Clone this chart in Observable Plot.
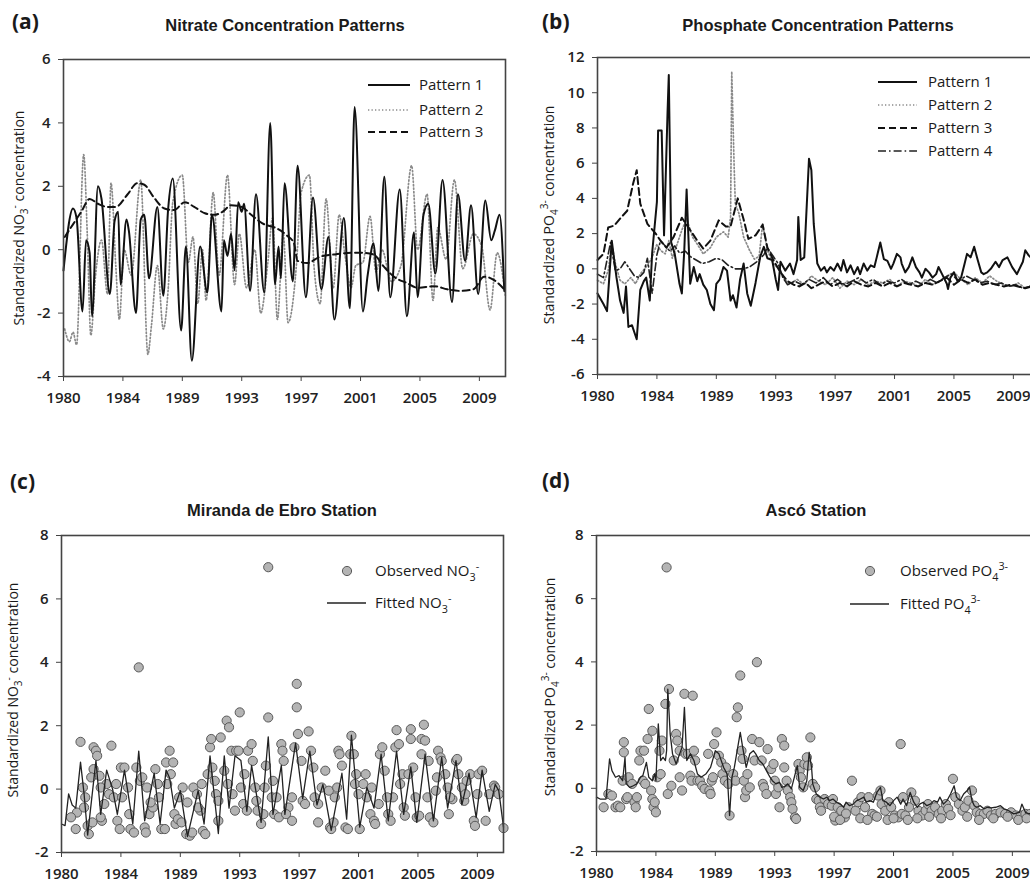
<!DOCTYPE html>
<html>
<head>
<meta charset="utf-8">
<script src="https://cdn.jsdelivr.net/npm/d3@7"></script>
<script src="https://cdn.jsdelivr.net/npm/@observablehq/plot@0.6"></script>
<style>
  html, body { margin: 0; padding: 0; background: #fff; overflow: hidden; }
  #wrap { position: relative; width: 1030px; height: 886px; overflow: hidden; background: #fff; }
  .pnl { position: absolute; }
  .pnl svg { max-width: none !important; background: transparent !important; }
  .pnl svg text { font-size: 15px !important; font-family: 'Open Sans', sans-serif !important; font-weight: 600 !important; fill: #222; }
  #ann { position: absolute; left: 0; top: 0; pointer-events: none; }
</style>
</head>
<body>
<div id="wrap">
  <div id="pa" class="pnl" style="left:0;top:0;width:515px"></div>
  <div id="pb" class="pnl" style="left:515px;top:0;width:540px"></div>
  <div id="pc" class="pnl" style="left:0;top:460px;width:515px"></div>
  <div id="pd" class="pnl" style="left:515px;top:460px;width:540px"></div>
  <svg id="ann" width="1030" height="886"></svg>
</div>
<script>
// ---------------- DATA (x = month index from Jan 1980, y = standardized value) ----------------
const tickMonths = [0, 50, 100, 150, 200, 250, 300, 350];
const tickLabels = ["1980", "1984", "1989", "1993", "1997", "2001", "2005", "2009"];
const monthDomain = [0, 372];

// (a) Nitrate concentration patterns
const nitrateP1 = [[0,-0.65],[8,1.3],[11,1.0],[16,-1.95],[19,0.3],[22,-0.1],[24,-2.1],[29,2.0],[32,1.6],[39,-1.4],[43,0.9],[46,1.2],[48,-1.1],[53,0.95],[55,0.6],[61,-2.0],[65,0.95],[68,1.1],[72,-0.9],[79,1.35],[84,-1.45],[88,1.25],[92,2.25],[99,-2.55],[103,0.1],[108,-3.5],[115,0.1],[121,-1.35],[125,1.1],[133,-1.95],[135,0.3],[138,-0.2],[141,0.5],[144,-0.65],[147,1.5],[150,1.2],[152,1.45],[157,-1.3],[162,1.75],[169,-1.35],[174,4.0],[178,-1.1],[181,0.1],[183,-0.9],[186,2.1],[193,-1.0],[197,2.65],[204,-1.5],[210,1.65],[217,-1.25],[223,0.4],[228,-2.2],[236,1.0],[241,-1.85],[245,4.5],[252,-1.95],[256,-0.8],[261,0.2],[265,-1.3],[270,2.3],[275,-1.5],[283,1.9],[289,-2.1],[295,0.55],[298,-1.5],[303,1.1],[307,1.45],[313,-0.75],[319,2.2],[327,-1.65],[332,1.75],[338,-0.35],[343,1.4],[349,-1.4],[355,1.55],[360,0.3],[363,0.6],[367,1.1],[371,-1.3]];
const nitrateP2 = [[1,-2.5],[5,-2.9],[8,-2.6],[11,-3.0],[17,3.0],[20,0.5],[23,-2.7],[27,-0.8],[32,0.3],[37,-1.4],[40,2.1],[44,-0.5],[47,-2.2],[51,0.0],[57,-0.8],[65,2.2],[71,-3.3],[74,-2.4],[79,-0.5],[84,-2.5],[88,-1.3],[92,1.5],[100,2.35],[105,-0.4],[109,0.4],[113,-1.7],[117,0.0],[120,-1.6],[126,1.8],[131,-0.8],[138,2.35],[144,-1.1],[148,0.5],[154,-1.2],[161,0.0],[166,-2.0],[172,-0.4],[176,1.0],[180,-2.2],[185,0.5],[189,-2.3],[196,-0.5],[200,1.8],[207,2.35],[211,-0.6],[216,-1.7],[221,1.6],[227,-1.2],[232,1.1],[237,-0.2],[242,-1.2],[246,-0.5],[252,-0.4],[258,1.05],[263,-0.7],[268,0.0],[276,-1.0],[284,-0.5],[293,2.65],[298,0.0],[306,1.75],[311,-1.6],[315,0.7],[322,-0.3],[329,2.2],[336,-0.6],[345,0.5],[352,0.1],[359,-1.9],[365,-0.1],[372,-1.5]];
const nitrateP3 = [[1,0.4],[8,0.8],[15,1.2],[22,1.6],[29,1.45],[37,1.35],[44,1.35],[54,1.75],[62,2.1],[68,2.05],[76,1.65],[85,1.3],[93,1.25],[102,1.5],[110,1.35],[119,1.15],[127,1.1],[134,1.2],[141,1.4],[150,1.35],[158,1.1],[169,0.8],[178,0.7],[188,0.45],[194,0.2],[197,-0.35],[205,-0.42],[216,-0.22],[228,-0.15],[242,-0.1],[253,-0.1],[261,-0.15],[270,-0.55],[278,-0.85],[289,-1.05],[298,-1.2],[312,-1.15],[323,-1.25],[334,-1.3],[345,-1.25],[354,-0.85],[362,-0.95],[371,-1.25]];

// (b) Phosphate concentration patterns
const phosP1 = [[0,-1.4],[5,-2.0],[8,-2.4],[12,1.6],[16,-0.5],[19,-1.8],[22,-2.5],[24,-1.0],[26,-3.3],[29,-3.2],[31,-3.6],[33,-4.0],[36,-1.2],[39,-0.7],[41,-0.5],[44,-1.8],[46,0.9],[50,3.8],[51,7.85],[54,7.85],[56,1.9],[59,9.0],[60,11.0],[62,1.5],[65,0.85],[69,-0.85],[71,-1.4],[73,1.0],[75,4.5],[78,-0.85],[81,0.1],[84,-0.7],[86,-0.3],[89,-0.9],[92,-1.2],[95,-2.0],[98,-2.35],[100,-0.85],[103,-0.6],[106,0.1],[109,-0.1],[112,-1.8],[114,-1.5],[117,-2.2],[120,-0.6],[123,0.3],[126,-1.4],[129,-2.1],[133,-0.8],[137,0.7],[140,1.25],[143,0.6],[147,0.5],[150,-0.6],[152,-1.2],[154,0.4],[158,-0.1],[162,0.3],[165,-0.3],[168,0.5],[169,2.95],[171,0.5],[174,0.65],[178,6.25],[180,5.6],[182,2.55],[185,0.3],[188,-0.1],[191,0.1],[193,-0.2],[196,0.1],[199,-0.1],[202,0.3],[205,-0.1],[207,0.5],[210,-0.2],[213,0.2],[216,-0.3],[219,0.1],[221,-0.3],[224,0.3],[227,-0.1],[230,0.2],[233,0.1],[235,0.65],[238,1.5],[241,0.55],[244,0.45],[247,0.0],[249,0.3],[252,0.85],[255,0.65],[256,0.3],[259,-0.2],[262,0.1],[265,0.65],[268,0.1],[271,-0.2],[273,-0.5],[276,0.0],[279,-0.2],[282,-0.5],[285,-0.3],[287,0.1],[290,-0.3],[294,-0.85],[295,-1.15],[297,-0.5],[300,-0.2],[303,-0.7],[306,-0.5],[309,0.3],[311,0.85],[314,0.65],[317,1.25],[320,0.5],[323,-0.2],[325,-0.3],[328,-0.2],[331,0.0],[335,0.4],[338,0.1],[341,0.5],[345,0.65],[349,0.1],[353,-0.3],[358,0.4],[360,1.05],[363,0.75],[367,0.5],[372,0.3]];
const phosP2 = [[0,-0.65],[5,-0.85],[9,-0.1],[12,1.4],[15,0.3],[19,-0.65],[23,-0.85],[28,-0.5],[32,-0.85],[36,-0.3],[42,0.2],[46,0.65],[50,1.4],[53,1.05],[57,0.85],[60,1.6],[63,0.6],[67,1.4],[71,2.2],[75,2.85],[80,1.8],[84,1.4],[89,0.85],[95,1.2],[100,1.8],[106,2.1],[110,1.8],[112,2.95],[113,11.2],[115,5.8],[116,3.7],[119,3.15],[123,1.8],[128,1.05],[132,0.55],[136,0.7],[139,2.55],[143,1.05],[148,0.3],[154,-0.1],[158,-0.65],[162,-0.85],[168,-0.6],[174,-0.9],[180,-0.4],[186,-0.7],[192,-0.9],[198,-0.5],[204,-1.1],[210,-0.7],[216,-0.9],[222,-0.6],[228,-0.9],[234,-0.7],[240,-0.8],[246,-0.6],[252,-1.0],[258,-0.7],[264,-0.8],[270,-1.0],[276,-0.6],[282,-0.9],[288,-0.7],[294,-0.4],[300,-0.2],[306,-0.6],[312,-0.9],[318,-0.5],[324,-0.8],[330,-0.4],[336,-0.7],[342,-0.9],[348,-1.0],[354,-0.8],[360,-1.1],[366,-0.9],[372,-1.3]];
const phosP3 = [[0,0.5],[5,0.85],[9,2.35],[14,2.45],[19,2.85],[25,3.3],[30,4.85],[33,5.6],[36,3.7],[42,2.55],[49,2.0],[53,1.6],[58,1.2],[64,1.8],[71,2.9],[77,2.3],[84,1.6],[89,1.15],[95,1.6],[102,2.75],[108,2.4],[112,2.4],[118,4.0],[123,2.8],[127,1.7],[133,1.9],[139,2.5],[143,1.2],[148,0.5],[154,-0.2],[160,-0.7],[165,-0.9],[170,-1.0],[175,-0.8],[180,-1.1],[186,-0.9],[192,-0.7],[198,-1.0],[204,-0.8],[210,-1.0],[216,-0.7],[222,-0.9],[228,-1.0],[234,-0.8],[240,-1.0],[246,-0.8],[252,-1.0],[258,-0.8],[264,-0.9],[270,-1.0],[276,-0.8],[282,-0.9],[288,-0.7],[294,-0.5],[300,-0.9],[306,-0.6],[312,-0.8],[318,-0.6],[324,-0.9],[330,-0.8],[336,-0.9],[342,-1.0],[348,-0.9],[354,-1.0],[360,-1.1],[366,-1.0],[372,-1.2]];
const phosP4 = [[0,-0.3],[5,-0.5],[11,1.5],[15,-0.1],[19,0.0],[23,0.4],[27,0.0],[31,-0.4],[35,-0.5],[39,-0.2],[42,0.6],[46,-1.4],[50,0.8],[53,1.6],[57,1.3],[61,1.0],[65,1.3],[69,0.9],[74,1.0],[78,0.7],[83,0.5],[88,0.3],[94,0.4],[100,0.6],[105,0.5],[110,0.2],[116,0.0],[122,0.0],[128,0.1],[134,0.4],[140,0.8],[143,1.2],[148,0.7],[152,0.3],[156,-0.5],[160,-0.9],[166,-0.7],[172,-0.9],[178,-0.6],[184,-0.8],[190,-0.5],[196,-0.9],[202,-0.6],[208,-0.9],[214,-0.7],[220,-0.5],[226,-0.8],[232,-0.6],[238,-0.9],[244,-0.7],[250,-0.8],[256,-0.6],[262,-0.9],[268,-0.7],[274,-0.9],[280,-0.6],[286,-0.8],[292,-0.5],[298,-0.3],[304,-0.7],[310,-0.4],[316,-0.6],[322,-0.8],[328,-0.7],[334,-0.9],[340,-0.8],[346,-1.0],[352,-0.9],[358,-1.1],[364,-1.0],[372,-1.1]];

// (c) Miranda de Ebro station, NO3-
const mirandaObserved = [[16,1.49],[12,-1.26],[13,-0.74],[8,-0.89],[19,-0.58],[20,-0.26],[22,-1.16],[23,-1.42],[26,-1.05],[27,1.32],[29,1.21],[30,1.05],[27,0.63],[32,0.42],[34,-1.0],[33,-0.89],[38,0.16],[40,-0.16],[42,1.37],[44,-0.26],[47,-1.0],[49,-1.26],[50,0.68],[53,0.68],[56,0.05],[58,-1.26],[61,-1.37],[63,0.68],[65,3.84],[66,0.26],[70,-1.21],[71,-1.37],[74,-0.79],[77,-0.58],[79,0.63],[81,0.16],[84,-1.26],[87,-1.26],[88,0.84],[91,1.21],[94,0.84],[92,0.47],[95,-0.79],[96,-1.1],[98,-0.95],[101,-1.05],[105,-1.42],[108,-1.47],[110,-1.37],[111,0.05],[114,-0.16],[117,-0.68],[119,-1.32],[121,-1.42],[123,0.47],[125,1.32],[126,1.58],[127,0.68],[130,-0.16],[132,-1.0],[134,1.63],[137,0.58],[139,2.16],[141,1.95],[143,1.21],[146,-0.68],[147,1.21],[150,2.42],[149,1.21],[153,-0.47],[156,-0.68],[157,1.21],[160,1.42],[161,0.89],[164,-0.37],[168,-1.1],[170,-0.79],[172,0.74],[174,2.26],[174,7.0],[177,-0.26],[179,-0.79],[183,-0.89],[185,1.42],[186,1.21],[187,0.89],[18,0.05],[25,0.37],[33,0.05],[36,-0.47],[46,0.16],[51,-0.26],[57,-0.79],[68,0.37],[72,0.05],[75,-0.42],[82,-0.26],[89,0.16],[99,-0.26],[102,0.05],[106,-0.42],[115,-0.58],[118,0.16],[129,0.26],[132,-0.37],[140,0.16],[144,-0.16],[151,0.05],[154,0.47],[163,0.05],[165,-0.68],[171,0.05],[178,0.26],[181,-0.26],[191,-0.58],[189,-0.79],[194,-1.0],[196,1.32],[198,3.32],[198,2.58],[199,1.74],[202,0.89],[203,-0.37],[205,-0.47],[208,1.82],[210,1.21],[212,0.68],[213,-0.26],[216,-1.05],[219,0.05],[222,0.58],[225,-0.05],[226,-1.21],[227,-1.26],[229,-1.05],[232,0.05],[233,1.21],[234,1.1],[236,0.74],[239,-1.21],[241,-1.26],[243,1.1],[244,1.68],[246,1.1],[247,0.16],[248,0.47],[251,-1.26],[254,0.16],[256,0.47],[257,-0.26],[260,-0.79],[263,-1.0],[264,-1.1],[267,-0.47],[268,1.1],[270,1.32],[272,0.58],[275,-0.79],[277,-1.0],[279,-0.26],[282,1.86],[281,1.32],[284,1.42],[287,0.47],[288,-0.58],[289,-0.84],[292,0.47],[294,1.58],[294,1.89],[296,0.68],[298,-0.26],[299,-0.89],[301,-0.84],[303,1.1],[303,1.58],[305,2.03],[306,1.53],[309,0.89],[310,-0.89],[313,-1.05],[315,-0.05],[317,1.21],[319,1.0],[320,0.89],[323,0.47],[325,0.05],[326,-0.79],[329,-0.32],[332,0.89],[333,0.95],[334,0.47],[337,0.05],[339,-0.37],[341,0.26],[344,0.47],[347,-1.0],[348,-1.16],[351,0.47],[354,0.58],[357,-1.0],[364,0.11],[365,0.05],[372,-1.23],[194,-0.26],[216,-0.47],[230,-0.26],[250,-0.16],[261,0.05],[274,-0.26],[285,0.16],[308,-0.26],[316,0.37],[327,-0.26],[340,-0.16],[350,-0.16],[360,-0.16],[368,-0.16]];
const mirandaFitted = [[0,-1.1],[3,-1.15],[6,-0.15],[9,-0.5],[12,-0.6],[16,0.85],[19,-0.15],[22,-1.45],[29,0.9],[33,-0.8],[38,0.6],[43,0.0],[47,-0.8],[53,0.6],[60,-1.1],[65,1.2],[70,-1.0],[78,0.5],[83,-1.1],[88,0.6],[91,0.35],[95,-0.6],[100,-0.05],[106,-1.5],[115,-0.05],[120,-1.1],[125,1.05],[132,-1.4],[137,1.05],[141,-0.6],[146,1.05],[151,0.9],[156,-0.7],[160,0.75],[168,-1.05],[174,1.65],[178,-0.8],[185,0.75],[188,-0.8],[197,1.45],[203,-0.3],[209,1.2],[215,-0.5],[220,0.15],[227,-1.3],[236,0.5],[240,-0.95],[244,1.7],[251,-1.2],[257,0.05],[263,-0.6],[269,1.1],[275,-1.0],[282,1.2],[288,-0.8],[294,0.7],[299,-1.05],[306,1.1],[313,-1.0],[320,1.0],[325,-0.6],[332,0.9],[337,-0.5],[343,0.5],[349,-0.9],[354,0.6],[360,-0.7],[365,0.15],[368,-0.05],[372,-1.2]];

// (d) Ascó station, PO4 3-
const ascoObserved = [[6,-0.6],[10,-0.18],[13,-0.23],[16,-0.6],[18,-0.55],[20,-0.6],[23,1.46],[23,1.14],[22,0.24],[25,-0.34],[26,-0.28],[27,0.35],[30,0.14],[32,-0.44],[33,-0.6],[34,-0.28],[36,0.88],[37,1.19],[39,0.24],[40,1.19],[41,0.14],[43,1.56],[44,2.51],[47,1.82],[46,-0.07],[47,-0.34],[48,-0.6],[50,-0.76],[49,-0.44],[51,0.35],[53,1.19],[54,0.45],[55,1.51],[58,2.67],[61,3.14],[59,6.99],[60,-0.18],[63,0.08],[65,0.88],[67,1.72],[68,1.51],[70,1.19],[70,0.35],[72,-0.07],[74,2.99],[75,1.09],[77,1.09],[79,0.4],[81,2.93],[80,0.24],[82,1.19],[83,0.88],[85,0.24],[87,0.24],[89,0.08],[91,-0.02],[94,1.09],[95,-0.07],[96,-0.18],[97,0.24],[98,0.35],[99,1.4],[101,1.77],[103,1.03],[105,0.82],[106,0.45],[108,0.24],[109,0.66],[111,0.14],[112,-0.86],[115,0.45],[117,0.24],[118,2.25],[119,2.56],[121,3.57],[122,1.19],[123,0.93],[124,0.24],[125,-0.28],[126,-0.07],[127,0.45],[129,0.03],[131,1.56],[133,0.88],[135,3.99],[137,1.46],[139,0.88],[140,0.14],[141,0.03],[143,-0.18],[144,1.24],[147,0.61],[149,0.77],[150,0.24],[151,-0.18],[153,0.03],[154,-0.6],[156,1.56],[158,1.35],[158,0.66],[160,0.24],[161,-0.07],[163,-0.28],[164,-0.44],[165,-0.65],[167,-0.92],[168,-0.97],[170,0.77],[171,0.56],[172,0.35],[174,0.03],[175,0.77],[177,0.98],[178,0.72],[180,1.61],[182,0.14],[184,0.03],[185,-0.34],[187,-0.39],[188,-0.6],[189,-0.71],[192,-0.34],[195,-0.5],[198,-0.55],[199,-0.34],[201,-1.02],[203,-0.6],[206,-0.71],[209,-0.92],[212,-0.6],[215,0.24],[218,-0.71],[220,-0.44],[223,-0.28],[226,-0.6],[229,-0.28],[232,-0.81],[234,-0.86],[237,-0.23],[239,-0.07],[240,-0.5],[243,-0.71],[246,-0.44],[248,-0.6],[251,-0.86],[254,-0.92],[256,1.4],[257,-0.81],[258,-0.28],[260,-0.86],[263,-0.6],[265,-0.13],[268,-0.39],[271,-0.71],[274,-0.86],[277,-0.71],[279,-0.5],[282,-0.71],[285,-0.6],[288,-0.81],[291,-0.71],[294,-0.5],[296,-0.65],[300,0.3],[302,-0.28],[305,-0.5],[308,-0.71],[310,-0.6],[313,-0.39],[316,-0.07],[318,-0.55],[320,-0.76],[323,-0.81],[326,-0.81],[329,-0.71],[332,-0.86],[336,-0.81],[340,-0.76],[344,-0.81],[349,-0.76],[353,-0.86],[357,-0.86],[361,-0.81],[365,-0.81],[200,-0.9],[205,-1.0],[210,-0.8],[222,-0.95],[228,-1.0],[236,-0.9],[245,-1.0],[250,-0.95],[262,-1.0],[270,-0.95],[280,-0.9],[290,-0.95],[298,-0.85],[312,-0.9],[322,-1.0],[334,-0.95],[346,-0.9],[355,-1.0],[362,-0.95],[370,-0.95]];
const ascoFitted = [[0,-0.28],[3,-0.34],[8,-0.34],[11,0.93],[13,0.56],[16,0.35],[19,0.4],[22,0.24],[24,0.98],[25,0.14],[28,0.03],[31,0.08],[34,0.14],[37,0.35],[39,0.4],[42,0.82],[44,0.35],[47,0.24],[49,0.45],[50,0.24],[52,2.04],[54,0.88],[56,0.98],[58,0.88],[59,1.19],[60,3.14],[62,1.72],[64,1.09],[67,0.77],[70,1.09],[72,1.3],[74,2.56],[76,0.88],[79,1.09],[82,0.88],[85,0.45],[88,0.35],[92,0.45],[96,0.66],[100,1.19],[103,1.09],[107,0.66],[110,0.45],[112,-0.86],[114,0.35],[116,0.66],[121,1.77],[123,1.3],[126,0.66],[129,1.09],[132,1.19],[134,1.09],[137,0.88],[140,0.77],[143,0.56],[146,0.35],[148,0.24],[151,0.14],[154,0.19],[156,0.03],[158,0.05],[161,0.14],[164,-0.02],[169,0.72],[171,0.03],[174,-0.07],[177,0.24],[179,1.14],[181,0.66],[182,0.14],[185,-0.18],[188,-0.28],[191,-0.34],[194,-0.28],[196,-0.39],[199,-0.34],[202,-0.44],[205,-0.5],[208,-0.6],[210,-0.44],[213,-0.55],[216,-0.5],[219,-0.39],[222,-0.34],[225,-0.28],[227,-0.44],[230,-0.39],[233,-0.44],[236,-0.13],[239,0.03],[241,-0.39],[244,-0.44],[247,-0.55],[250,-0.39],[253,-0.28],[256,-0.5],[258,-0.34],[261,-0.55],[264,-0.13],[267,-0.44],[270,-0.6],[272,-0.5],[275,-0.44],[278,-0.55],[281,-0.5],[284,-0.39],[287,-0.44],[289,-0.28],[292,-0.5],[295,-0.39],[298,-0.18],[301,0.08],[303,-0.28],[306,-0.39],[309,-0.18],[312,-0.07],[314,0.03],[316,-0.39],[318,-0.55],[320,-0.6],[323,-0.55],[326,-0.65],[329,-0.6],[332,-0.62],[336,-0.6],[340,-0.55],[343,-0.65],[347,-0.71],[351,-0.81],[356,-0.76],[358,-0.5],[361,-0.76],[364,-0.81],[367,-0.76],[372,-0.8]];

// ---------------- STYLES ----------------
const S = {
  solid:   {stroke: "#111", strokeWidth: 2},
  dotted:  {stroke: "#8a8a8a", strokeWidth: 1.7, strokeDasharray: "1.3,2.2"},
  dashed:  {stroke: "#111", strokeWidth: 2, strokeDasharray: "7,4"},
  dashdot: {stroke: "#222", strokeWidth: 1.6, strokeDasharray: "8,3,1.6,3"},
  fitted:  {stroke: "#222", strokeWidth: 1.3},
  dot:     {r: 4.6, fill: "#b4b4b4", stroke: "#5a5a5a", strokeWidth: 1}
};

function panel(el, o, marks) {
  const svg = Plot.plot({
    width: o.width, height: o.height,
    marginTop: o.mt, marginBottom: o.mb, marginLeft: o.ml, marginRight: o.mr,
    x: {domain: monthDomain},
    y: {domain: o.ydom},
    style: {fontFamily: "'Open Sans', sans-serif", fontSize: "15px", color: "#222", background: "transparent"},
    marks: [
      Plot.axisX(tickMonths, {tickFormat: d => tickLabels[tickMonths.indexOf(d)], tickSize: 5, tickPadding: 11, label: null, stroke: "#444"}),
      Plot.axisY(o.yticks, {tickFormat: d => String(d), tickSize: 5, tickPadding: 8, label: null, stroke: "#444"}),
      ...marks,
      Plot.frame({stroke: "#444", strokeWidth: 1.6})
    ]
  });
  svg.style.maxWidth = "none";
  document.getElementById(el).appendChild(svg);
}

const xy = {x: d => d[0], y: d => d[1]};
const smooth = {curve: "monotone-x"};

panel("pa", {width: 515, height: 420, mt: 59, mb: 44, ml: 63, mr: 10, ydom: [-4, 6], yticks: [-4, -2, 0, 2, 4, 6]}, [
  Plot.line(nitrateP2, {...xy, ...smooth, ...S.dotted}),
  Plot.line(nitrateP3, {...xy, ...smooth, ...S.dashed}),
  Plot.line(nitrateP1, {...xy, ...smooth, ...S.solid})
]);

panel("pb", {width: 540, height: 420, mt: 57, mb: 46, ml: 82, mr: 16, ydom: [-6, 12], yticks: [-6, -4, -2, 0, 2, 4, 6, 8, 10, 12]}, [
  Plot.line(phosP2, {...xy, ...S.dotted}),
  Plot.line(phosP4, {...xy, ...S.dashdot}),
  Plot.line(phosP3, {...xy, ...S.dashed}),
  Plot.line(phosP1, {...xy, ...S.solid})
]);

panel("pc", {width: 515, height: 426, mt: 75, mb: 34, ml: 61, mr: 12, ydom: [-2, 8], yticks: [-2, 0, 2, 4, 6, 8]}, [
  Plot.dot(mirandaObserved, {...xy, ...S.dot}),
  Plot.line(mirandaFitted, {...xy, ...S.fitted})
]);

panel("pd", {width: 540, height: 426, mt: 75, mb: 35, ml: 81, mr: 17, ydom: [-2, 8], yticks: [-2, 0, 2, 4, 6, 8]}, [
  Plot.dot(ascoObserved, {...xy, ...S.dot}),
  Plot.line(ascoFitted, {...xy, ...S.fitted})
]);

// ---------------- ANNOTATIONS (titles, panel letters, axis titles, legends) ----------------
const ann = d3.select("#ann");
const FONT = "'Open Sans', sans-serif";
const TFONT = "'Liberation Sans', Arial, sans-serif";

function rich(sel, parts, fs) {
  let cur = 0;
  for (const [t, k] of parts) {
    const off = k === "sub" ? 0.3 * fs : k === "sup" ? -0.45 * fs : 0;
    sel.append("tspan").attr("dy", off - cur).attr("font-size", k ? fs * 0.72 : fs).text(t);
    cur = off;
  }
}
function text(x, y, s, fs, weight, family, anchor) {
  return ann.append("text").attr("x", x).attr("y", y).attr("font-size", fs)
    .attr("font-weight", weight).attr("font-family", family)
    .attr("text-anchor", anchor || "start").attr("fill", "#1a1a1a").text(s);
}

// panel letters
[["(a)", 12, 29], ["(b)", 542, 29], ["(c)", 10, 489], ["(d)", 542, 488]]
  .forEach(([s, x, y]) => text(x, y, s, 21, 700, FONT));

// titles
[["Nitrate Concentration Patterns", 285, 31], ["Phosphate Concentration Patterns", 818, 31],
 ["Miranda de Ebro Station", 282, 516], ["Ascó Station", 816, 516]]
  .forEach(([s, x, y]) => text(x, y, s, 16.5, 700, TFONT, "middle"));

// y axis titles
const no3 = [["Standardized NO"], ["3", "sub"], ["-", "sup"], [" concentration"]];
const po4 = [["Standardized PO"], ["4", "sub"], ["3-", "sup"], [" concentration"]];
[[no3, 19, 218], [po4, 549, 215], [no3, 13, 690], [po4, 550, 687]].forEach(([parts, cx, cy]) => {
  const t = ann.append("text").attr("transform", `translate(${cx},${cy}) rotate(-90)`)
    .attr("text-anchor", "middle").attr("font-family", FONT).attr("font-size", 14)
    .attr("fill", "#1a1a1a").attr("y", 5);
  rich(t, parts, 14);
});

// legend helpers
function legLine(x1, x2, y, st) {
  ann.append("line").attr("x1", x1).attr("x2", x2).attr("y1", y).attr("y2", y)
    .attr("stroke", st.stroke).attr("stroke-width", st.strokeWidth)
    .attr("stroke-dasharray", st.strokeDasharray || null);
}
function legText(x, y, parts) {
  const t = ann.append("text").attr("x", x).attr("y", y + 5.3).attr("font-family", FONT)
    .attr("font-size", 15).attr("font-weight", 500).attr("fill", "#1a1a1a");
  rich(t, parts, 15);
}

// (a) legend
[[85, S.solid, "Pattern 1"], [110, S.dotted, "Pattern 2"], [132, S.dashed, "Pattern 3"]].forEach(([y, st, s]) => {
  legLine(368, 410, y, st); legText(419, y, [[s]]);
});
// (b) legend
[[82, S.solid, "Pattern 1"], [105, S.dotted, "Pattern 2"], [128, S.dashed, "Pattern 3"], [151, S.dashdot, "Pattern 4"]].forEach(([y, st, s]) => {
  legLine(878, 917, y, st); legText(928, y, [[s]]);
});
// (c) legend
ann.append("circle").attr("cx", 347).attr("cy", 571).attr("r", S.dot.r).attr("fill", S.dot.fill).attr("stroke", S.dot.stroke);
legText(375, 571, [["Observed NO"], ["3", "sub"], ["-", "sup"]]);
legLine(327, 366, 603, S.fitted);
legText(375, 603, [["Fitted NO"], ["3", "sub"], ["-", "sup"]]);
// (d) legend
ann.append("circle").attr("cx", 870).attr("cy", 571).attr("r", S.dot.r).attr("fill", S.dot.fill).attr("stroke", S.dot.stroke);
legText(900, 571, [["Observed PO"], ["4", "sub"], ["3-", "sup"]]);
legLine(850, 889, 604, S.fitted);
legText(900, 604, [["Fitted PO"], ["4", "sub"], ["3-", "sup"]]);
</script>
</body>
</html>
